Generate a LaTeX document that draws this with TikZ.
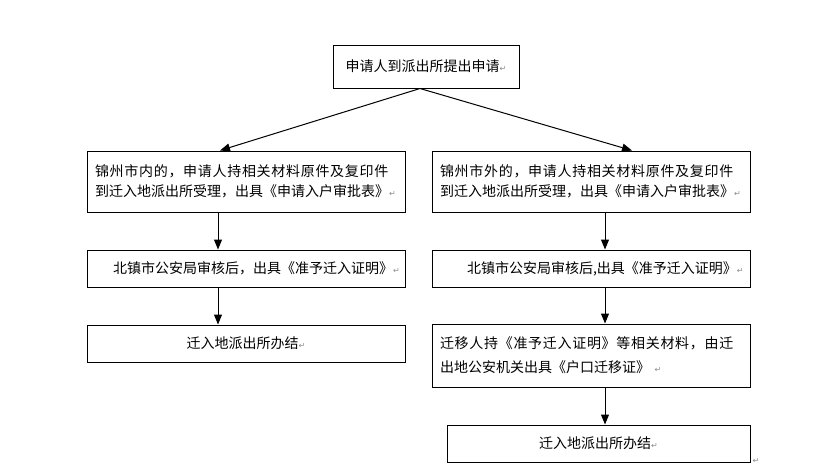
\documentclass[tikz,border=0pt]{standalone}
\usepackage{fontspec}
\newfontfamily\cjk{Noto Sans CJK SC}
\newfontfamily\cjkwide[LetterSpace=5]{Noto Sans CJK SC}
\newfontfamily\markfont{DejaVu Sans}
\usetikzlibrary{arrows.meta}
\newcommand\parmark{{\markfont\fontsize{8}{8}\selectfont\textcolor{black!45}{↵}}}
\tikzset{
  flow box/.style={rectangle,draw=black,line width=1pt,inner sep=0pt,text=black,
    font=\cjk\fontsize{14}{20}\selectfont},
  flow wide/.style={flow box,minimum width=318pt},
  flow arrow/.style={-{Triangle[length=10pt,width=8pt]},line width=1pt,draw=black}
}

\begin{document}
\begin{tikzpicture}[x=1pt,y=-1pt]
  \useasboundingbox (0,0) rectangle (840,472);
  \node[flow box,minimum width=186pt,minimum height=43pt] (apply) at (426,66.5) {申请人到派出所提出申请\parmark};

  \node[flow wide,minimum height=61pt,text width=302pt,align=left] (inOne) at (246,181.5)
    {{\cjkwide 锦州市内的，申请人持相关材料原件及复印件}\\到迁入地派出所受理，出具《申请入户审批表》\parmark};
  \node[flow wide,minimum height=37pt,text width=312pt,align=left] (inTwo) at (246,268.5)
    {\hspace*{23pt}北镇市公安局审核后，出具《准予迁入证明》\parmark};
  \node[flow wide,minimum height=37pt] (inThree) at (246,343.5) {迁入地派出所办结\parmark};

  \node[flow wide,minimum height=61pt,text width=302pt,align=left] (outOne) at (591,181.5)
    {{\cjkwide 锦州市外的，申请人持相关材料原件及复印件}\\到迁入地派出所受理，出具《申请入户审批表》\parmark};
  \node[flow wide,minimum height=37pt,text width=312pt,align=left] (outTwo) at (591,268.5)
    {\hspace*{32pt}北镇市公安局审核后,出具《准予迁入证明》\parmark};
  \node[flow wide,minimum height=63pt,text width=302pt,align=left] (outThree) at (591,355.5)
    {{\cjkwide 迁移人持《准予迁入证明》等相关材料，由迁}\\[4pt]出地公安机关出具《户口迁移证》 \parmark};
  \node[flow box,minimum width=303pt,minimum height=37pt] (outFour) at (598.5,443.5) {迁入地派出所办结\parmark};
  \node[inner sep=0pt] (endMark) at (756,461) {\parmark};

  \draw[flow arrow] ([xshift=-6pt]apply.south) -- ([xshift=-26pt]inOne.north);
  \draw[flow arrow] ([xshift=-6pt]apply.south) -- ([xshift=41pt]outOne.north);

  \draw[flow arrow] ([xshift=-28pt]inOne.south) -- ([xshift=-28pt]inTwo.north);
  \draw[flow arrow] ([xshift=-28pt]inTwo.south) -- ([xshift=-28pt]inThree.north);

  \draw[flow arrow] ([xshift=14pt]outOne.south) -- ([xshift=14pt]outTwo.north);
  \draw[flow arrow] ([xshift=14pt]outTwo.south) -- ([xshift=14pt]outThree.north);
  \draw[flow arrow] ([xshift=14pt]outThree.south) -- ([xshift=14pt]outThree.south |- outFour.north);
\end{tikzpicture}
\end{document}
